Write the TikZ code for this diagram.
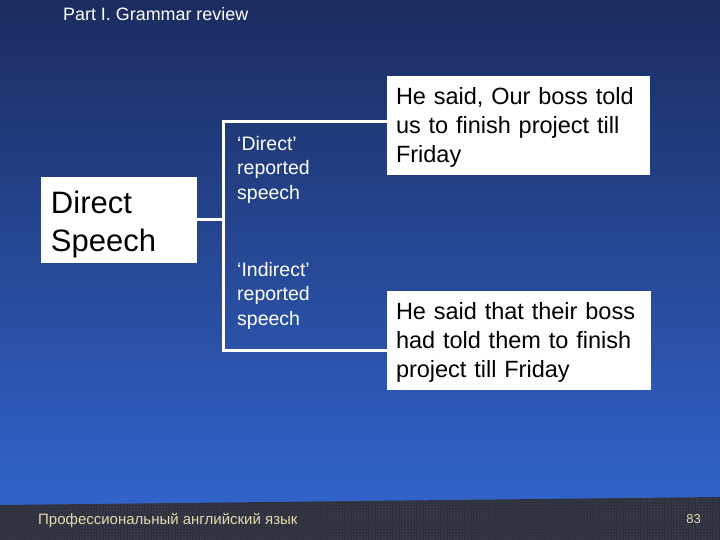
\documentclass[tikz,border=0pt]{standalone}
\usepackage{fontspec}
\setmainfont{Liberation Sans}
\usetikzlibrary{patterns}
\definecolor{bgtop}{RGB}{27,44,94}
\definecolor{bgbot}{RGB}{49,99,202}
\definecolor{barcol}{RGB}{46,50,62}
\definecolor{dotcol}{RGB}{78,84,100}
\definecolor{foot}{RGB}{232,216,176}
\tikzset{
  wbox/.style={draw=none, fill=white, text=black, align=left, inner ysep=0pt},
  lbl/.style={text=white, align=left, inner sep=0pt, anchor=north west,
    font=\fontsize{19.5bp}{24.5bp}\selectfont},
  conn/.style={draw=white, line width=3bp},
}
\begin{document}
\begin{tikzpicture}[x=1bp, y=-1bp]
\useasboundingbox (0,0) rectangle (720,540);
% background
\shade[top color=bgtop, bottom color=bgbot] (0,0) rectangle (720,505);
\fill[barcol] (0,505) -- (720,497) -- (720,540) -- (0,540) -- cycle;
\fill[pattern=dots, pattern color=dotcol] (0,505) -- (720,497) -- (720,540) -- (0,540) -- cycle;
% title
\node[text=white, inner sep=0pt, anchor=base west, font=\fontsize{17.9bp}{20bp}\selectfont] (title) at (63,21) {Part I. Grammar review};
% boxes
\node[wbox, minimum width=156bp, minimum height=86bp, text width=136bp, inner xsep=10bp,
  font=\fontsize{31bp}{38bp}\selectfont] (ds) at (119,220) {\rule{0pt}{30.5bp}Direct\\Speech};
\node[wbox, minimum width=263bp, minimum height=99bp, text width=245bp, inner xsep=9bp,
  font=\fontsize{23.5bp}{28.8bp}\selectfont] (b1) at (518.5,125.5) {\rule{0pt}{21bp}He said, Our boss told\\us to finish project till\\Friday};
\node[wbox, minimum width=264bp, minimum height=99bp, text width=246bp, inner xsep=9bp,
  font=\fontsize{23.5bp}{28.8bp}\selectfont] (b2) at (519,340.5) {\rule{0pt}{21bp}He said that their boss\\had told them to finish\\project till Friday};
% labels
\node[lbl] (l1) at (237,136) {‘Direct’\\reported\\speech};
\node[lbl] (l2) at (237,262) {‘Indirect’\\reported\\speech};
% connectors
\coordinate (jm) at (223,220);
\coordinate (jt) at (223,122);
\coordinate (jb) at (223,350);
\draw[conn] (ds.east |- jm) -- (jm);
\draw[conn, line cap=rect] (jt) -- (jb);
\draw[conn] (jt) -- (jt -| b1.west);
\draw[conn] (jb) -- (jb -| b2.west);
% footer
\node[text=foot, inner sep=0pt, anchor=base west, font=\fontsize{15bp}{18bp}\selectfont] (ft) at (38,524) {Профессиональный английский язык};
\node[text=foot, inner sep=0pt, anchor=base east, font=\fontsize{13bp}{16bp}\selectfont] (pg) at (701,523) {83};
\end{tikzpicture}
\end{document}
